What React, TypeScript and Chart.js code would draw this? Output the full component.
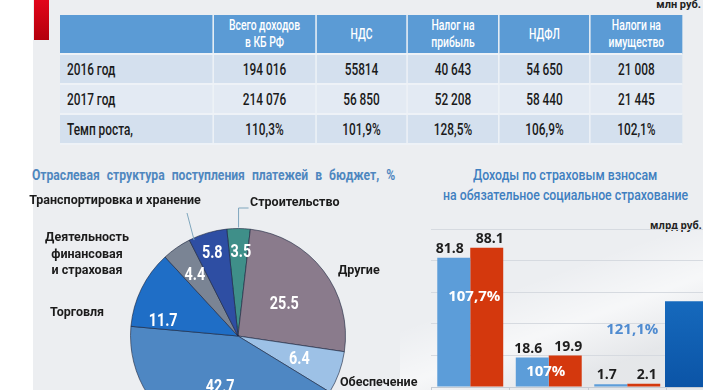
import React, { useEffect, useLayoutEffect, useRef } from 'react';
import { Chart, registerables } from 'chart.js';

Chart.register(...registerables);

// ---------- DATA ----------
const tableHeaders = ['', 'Всего доходов в КБ РФ', 'НДС', 'Налог на прибыль', 'НДФЛ', 'Налоги на имущество'];
const rowLabels = ['2016 год', '2017 год', 'Темп роста,'];
const row2016 = ['194 016', '55814', '40 643', '54 650', '21 008'];
const row2017 = ['214 076', '56 850', '52 208', '58 440', '21 445'];
const rowGrowth = ['110,3%', '101,9%', '128,5%', '106,9%', '102,1%'];

const pieLabels = [
  'Строительство',
  'Другие',
  'Обеспечение',
  'Прочие отрасли',
  'Торговля',
  'Деятельность финансовая и страховая',
  'Транспортировка и хранение',
];
const pieValues = [3.5, 25.5, 6.4, 42.7, 11.7, 4.4, 5.8];

const barCategories = ['Пенсионное', 'Медицинское', 'Социальное', ''];
const contrib2016 = [81.8, 18.6, 1.7, null];
const contrib2017 = [88.1, 19.9, 2.1, null];
const growthLabels = ['107,7%', '107%', '121,1%'];
const sideCategories = ['next'];
const sideValues = [54];

// ---------- STYLE ----------
const SANS = 'Roboto, "Noto Sans", sans-serif';
const pieColors = ['#3f8f89', '#8a7b8c', '#9dc1e6', '#4e87c3', '#1f6ec6', '#7a8494', '#2e4ea3'];
const pieLabelRadius = [0.78, 0.52, 0.61, 0.51, 0.71, 0.69, 0.8];
const pieLabelShift = [1.7, 3.5, 0.8, 0.7, -15, -0.7, -1];
const growthY = [57, 9.5, 36];
const growthDx = [4, -3, 5];
const growthColors = ['#ffffff', '#ffffff', '#4f8bd0'];
const TABLE_SCALE = 0.74;
const colWidths = [153, 103, 91, 92, 91, 92];

function condText(ctx: any, t: string, x: number, y: number, sx: number) {
  ctx.save();
  ctx.translate(x, y);
  ctx.scale(sx, 1);
  ctx.fillText(t, 0, 0);
  ctx.restore();
}

const pieLabelPlugin = {
  id: 'pieLabels',
  afterDatasetsDraw(chart: any) {
    const ctx = chart.ctx;
    const meta = chart.getDatasetMeta(0);
    ctx.save();
    ctx.fillStyle = '#ffffff';
    ctx.font = `bold 18px ${SANS}`;
    ctx.textAlign = 'center';
    ctx.textBaseline = 'middle';
    meta.data.forEach((arc: any, i: number) => {
      const p = arc.getProps(['x', 'y', 'startAngle', 'endAngle', 'outerRadius'], true);
      const mid = (p.startAngle + p.endAngle) / 2 + (pieLabelShift[i] * Math.PI) / 180;
      const r = p.outerRadius * pieLabelRadius[i];
      condText(ctx, String(pieValues[i]), p.x + Math.cos(mid) * r, p.y + Math.sin(mid) * r, 0.8);
    });

    // leader lines
    ctx.strokeStyle = '#7fa6bd';
    ctx.lineWidth = 1;
    const a0 = meta.data[0].getProps(['x', 'y', 'startAngle', 'endAngle', 'outerRadius'], true);
    const m0 = (a0.startAngle + a0.endAngle) / 2;
    const sx = a0.x + Math.cos(m0) * (a0.outerRadius + 1);
    const sy = a0.y + Math.sin(m0) * (a0.outerRadius + 1);
    ctx.beginPath();
    ctx.moveTo(sx, sy);
    ctx.lineTo(sx, 48);
    ctx.lineTo(sx + 10, 48);
    ctx.stroke();
    const a6 = meta.data[6].getProps(['x', 'y', 'startAngle', 'endAngle', 'outerRadius'], true);
    const m6 = a6.startAngle + 0.04;
    ctx.beginPath();
    ctx.moveTo(a6.x + Math.cos(m6) * (a6.outerRadius - 2), a6.y + Math.sin(m6) * (a6.outerRadius - 2));
    ctx.lineTo(187, 53);
    ctx.stroke();

    // outer labels
    ctx.fillStyle = '#1b1b1b';
    ctx.font = `bold 12.5px ${SANS}`;
    ctx.textBaseline = 'middle';
    ctx.textAlign = 'center';
    ctx.fillText('Транспортировка и хранение', 115, 41);
    ctx.fillText('Деятельность', 87, 78);
    ctx.fillText('финансовая', 87, 95);
    ctx.fillText('и страховая', 87, 111);
    ctx.textAlign = 'left';
    ctx.fillText('Строительство', 250, 43);
    ctx.fillText('Торговля', 50, 153);
    ctx.fillText('Другие', 338, 111);
    ctx.fillText('Обеспечение', 340, 223);
    ctx.restore();
  },
};

const barLabelPlugin = {
  id: 'barLabels',
  afterDatasetsDraw(chart: any) {
    const ctx = chart.ctx;
    ctx.save();
    ctx.textAlign = 'center';
    [0, 1].forEach((di) => {
      const meta = chart.getDatasetMeta(di);
      const data = chart.data.datasets[di].data;
      meta.data.forEach((el: any, i: number) => {
        const v = data[i];
        if (v == null) return;
        ctx.font = 'bold 14px "Open Sans", Roboto, sans-serif';
        ctx.fillStyle = '#1e1e1e';
        ctx.textBaseline = 'bottom';
        ctx.fillText(String(v), el.x + (di === 0 ? -4 : 3), el.y - 2);
      });
    });
    const xs = chart.scales.x;
    const ys = chart.scales.y;
    growthLabels.forEach((t, i) => {
      ctx.font = 'bold 15px "Open Sans", Roboto, sans-serif';
      ctx.fillStyle = growthColors[i];
      ctx.textBaseline = 'middle';
      ctx.fillText(t, xs.getPixelForValue(i) + growthDx[i], ys.getPixelForValue(growthY[i]));
    });
    ctx.restore();
  },
};

function FitText(props: { text: string; left: number; top: number; width: number; font: string; color: string; wordSpacing?: number }) {
  const ref = useRef<HTMLSpanElement>(null);
  useLayoutEffect(() => {
    const el = ref.current;
    if (!el) return;
    el.style.transform = 'none';
    const w = el.offsetWidth;
    if (w > 0) el.style.transform = `scaleX(${props.width / w})`;
  }, [props.text, props.width]);
  return (
    <span
      ref={ref}
      style={{
        position: 'absolute',
        left: props.left,
        top: props.top,
        font: props.font,
        color: props.color,
        whiteSpace: 'nowrap',
        transformOrigin: 'left top',
        wordSpacing: props.wordSpacing || 0,
      }}
    >
      {props.text}
    </span>
  );
}

export default function App() {
  const pieRef = useRef<HTMLCanvasElement>(null);
  const barRef = useRef<HTMLCanvasElement>(null);
  const sideRef = useRef<HTMLCanvasElement>(null);

  useEffect(() => {
    Chart.defaults.font.family = SANS;
    const pie = new Chart(pieRef.current as HTMLCanvasElement, {
      type: 'pie',
      data: {
        labels: pieLabels,
        datasets: [
          {
            data: pieValues,
            backgroundColor: pieColors,
            borderColor: 'rgba(25,35,60,0.6)',
            borderWidth: 1,
          },
        ],
      },
      options: {
        responsive: false,
        animation: false,
        rotation: -6,
        layout: { padding: { left: 130, right: 74, top: 68, bottom: 6 } },
        plugins: { legend: { display: false }, tooltip: { enabled: false } },
      },
      plugins: [pieLabelPlugin],
    } as any);

    const bar = new Chart(barRef.current as HTMLCanvasElement, {
      type: 'bar',
      data: {
        labels: barCategories,
        datasets: [
          {
            label: '2016',
            data: contrib2016,
            backgroundColor: '#5c9dd9',
            categoryPercentage: 0.84,
            barPercentage: 1,
          },
          {
            label: '2017',
            data: contrib2017,
            backgroundColor: '#d4380d',
            categoryPercentage: 0.84,
            barPercentage: 1,
          },
        ],
      },
      options: {
        responsive: false,
        animation: false,
        layout: { padding: { left: 31, right: 5, top: 29, bottom: 0 } },
        scales: {
          x: {
            type: 'category',
            offset: true,
            ticks: { display: false },
            grid: { display: true, offset: true, drawOnChartArea: false, tickLength: 6, color: '#c5cbd3' },
            border: { display: true, color: '#c5cbd3' },
          },
          y: {
            min: 0,
            max: 100,
            ticks: { display: false, stepSize: 20 },
            grid: { color: '#d6dae0', drawTicks: false },
            border: { display: false },
          },
        },
        plugins: { legend: { display: false }, tooltip: { enabled: false } },
      },
      plugins: [barLabelPlugin],
    } as any);

    const side = new Chart(sideRef.current as HTMLCanvasElement, {
      type: 'bar',
      data: {
        labels: sideCategories,
        datasets: [
          {
            data: sideValues,
            categoryPercentage: 1,
            barPercentage: 1,
            backgroundColor: (c: any) => {
              const area = c.chart.chartArea;
              if (!area) return '#1566bd';
              const g = c.chart.ctx.createLinearGradient(0, area.top, 0, area.bottom);
              g.addColorStop(0, '#1f7bd0');
              g.addColorStop(1, '#0b54a6');
              return g;
            },
          },
        ],
      },
      options: {
        responsive: false,
        animation: false,
        layout: { padding: { left: 0, right: 0, top: 29, bottom: 6 } },
        scales: {
          x: { display: false, offset: true },
          y: { display: false, min: 0, max: 100 },
        },
        plugins: { legend: { display: false }, tooltip: { enabled: false } },
      },
    } as any);

    return () => {
      pie.destroy();
      bar.destroy();
      side.destroy();
    };
  }, []);

  const rows = [row2016, row2017, rowGrowth];
  const rowBg = ['#d4e0ee', '#e3eaf3', '#d4e0ee'];
  const sep = `${2 / TABLE_SCALE}px solid #eef2f7`;

  return (
    <div style={{ position: 'fixed', left: 0, top: 0, width: 725, height: 390, overflow: 'hidden', background: '#ffffff' }}>
      <div style={{ position: 'absolute', left: 33, top: 0, width: 670, height: 390, background: '#eceef1' }} />
      <div
        style={{
          position: 'absolute',
          left: 400,
          top: 215,
          width: 303,
          height: 175,
          background: 'linear-gradient(160deg, rgba(255,255,255,0) 40%, rgba(255,255,255,0.55) 60%, rgba(0,0,0,0.03) 80%)',
        }}
      />
      <div style={{ position: 'absolute', left: 34, top: 0, width: 15, height: 40, background: 'linear-gradient(180deg, #e2051b, #b3000c)' }} />
      <div style={{ position: 'absolute', right: 24, top: -2, font: 'bold 11px Roboto, sans-serif', color: '#222' }}>млн руб.</div>

      <div style={{ position: 'absolute', left: 60, top: 15, transform: `scaleX(${TABLE_SCALE})`, transformOrigin: 'left top' }}>
        <table
          style={{
            width: 622 / TABLE_SCALE,
            borderCollapse: 'collapse',
            tableLayout: 'fixed',
            fontFamily: SANS,
          }}
        >
          <colgroup>
            {colWidths.map((w, i) => (
              <col key={i} style={{ width: w / TABLE_SCALE }} />
            ))}
          </colgroup>
          <thead>
            <tr style={{ height: 39 }}>
              {tableHeaders.map((h, i) => (
                <th
                  key={i}
                  style={{
                    background: '#5b9bd5',
                    color: '#fff',
                    fontWeight: 500,
                    fontSize: 14,
                    lineHeight: '17px',
                    padding: '0 16px',
                    textAlign: 'center',
                    borderRight: i < 5 ? sep : 'none',
                    borderBottom: sep,
                  }}
                >
                  {h}
                </th>
              ))}
            </tr>
          </thead>
          <tbody>
            {rows.map((r, ri) => (
              <tr key={ri} style={{ height: 30 }}>
                <td
                  style={{
                    background: rowBg[ri],
                    color: '#1a1a1a',
                    fontSize: 16,
                    fontWeight: 500,
                    padding: `0 0 0 ${7 / TABLE_SCALE}px`,
                    borderRight: sep,
                    borderBottom: sep,
                  }}
                >
                  {rowLabels[ri]}
                </td>
                {r.map((v, ci) => (
                  <td
                    key={ci}
                    style={{
                      background: rowBg[ri],
                      color: '#1a1a1a',
                      fontSize: 16,
                      fontWeight: 500,
                      textAlign: 'center',
                      padding: 0,
                      borderRight: ci < 4 ? sep : 'none',
                      borderBottom: sep,
                    }}
                  >
                    {v}
                  </td>
                ))}
              </tr>
            ))}
          </tbody>
        </table>
      </div>

      <FitText
        text="Отраслевая структура поступления платежей в бюджет, %"
        left={32}
        top={166}
        width={363}
        font={`bold 15px ${SANS}`}
        color="#4f87bf"
        wordSpacing={5}
      />

      <canvas ref={pieRef} width={420} height={290} style={{ position: 'absolute', left: 0, top: 160 }} />

      <FitText text="Доходы по страховым взносам" left={473} top={166} width={184} font={`500 15px ${SANS}`} color="#3f7fc0" />
      <FitText text="на обязательное социальное страхование" left={443} top={186} width={245} font={`500 15px ${SANS}`} color="#3f7fc0" />
      <div style={{ position: 'absolute', left: 650, top: 218, font: 'bold 10px "Open Sans", Roboto, sans-serif', color: '#222' }}>млрд руб.</div>

      <div style={{ position: 'absolute', left: 400, top: 200, width: 303, height: 200, overflow: 'hidden' }}>
        <canvas ref={barRef} width={350} height={193} style={{ position: 'absolute', left: 0, top: 0 }} />
        <canvas ref={sideRef} width={40} height={193} style={{ position: 'absolute', left: 265, top: 0 }} />
      </div>
    </div>
  );
}
